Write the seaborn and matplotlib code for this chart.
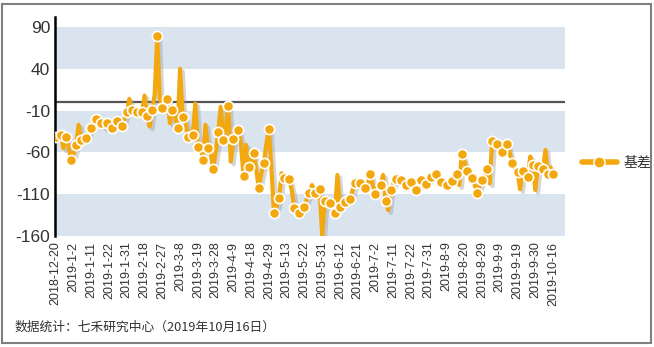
import numpy as np
import pandas as pd
import seaborn as sns
import matplotlib
matplotlib.use("Agg")
import matplotlib.pyplot as plt
import matplotlib.patheffects as pe
from matplotlib.lines import Line2D
from matplotlib.patches import Rectangle
from matplotlib.transforms import ScaledTranslation

# ---------------- data ----------------
tick_labels = ["2018-12-20", "2019-1-2", "2019-1-11", "2019-1-22", "2019-1-31",
               "2019-2-18", "2019-2-27", "2019-3-8", "2019-3-19", "2019-3-28",
               "2019-4-9", "2019-4-18", "2019-4-29", "2019-5-13", "2019-5-22",
               "2019-5-31", "2019-6-12", "2019-6-21", "2019-7-2", "2019-7-11",
               "2019-7-22", "2019-7-31", "2019-8-9", "2019-8-20", "2019-8-29",
               "2019-9-9", "2019-9-19", "2019-9-30", "2019-10-16"]
tick_step = 7

basis = [-41, -43, -39, -55, -41, -52, -69, -62, -51, -27,
         -45, -40, -43, -35, -31, -24, -19.5, -22, -25, -30,
         -25, -28, -31, -26, -23, -27, -28.6, -20, -12, 4,
         -9.5, -10, -12, -13, -11.5, 8, -17, -29, -8.7, 10,
         79, 5, -6.7, -2, 4, -25, -8.7, -15, -30.6, 40,
         -17.5, -20, -41, -35, -39, -1.5, -53, -50, -69, -27,
         -54.5, -60, -80, -60, -35.8, -5.5, -45, -30, -4.7, -71,
         -44.5, -40, -32.6, -50, -88, -51, -77, -70, -61, -80,
         -102, -85, -73, -50, -32, -80, -133, -125, -115, -85,
         -91, -95, -92, -105, -127, -130, -133, -128, -125, -115,
         -108, -99, -109, -110, -104, -159, -118, -115, -121, -128,
         -133, -87, -125, -122, -119, -117, -116, -105, -97, -100,
         -97, -99, -102, -98, -86, -100, -110, -100, -99, -87,
         -118, -129, -105, -98, -92, -95, -93, -96, -99, -100,
         -95, -98, -105, -100, -93, -95, -98, -92, -89, -87,
         -86, -90, -95, -100, -99, -96, -94, -90, -86, -99,
         -62, -70, -82, -88, -91, -98, -108, -100, -93, -88,
         -80, -97, -46.5, -48, -50, -55, -59, -52, -50, -62,
         -73, -80, -84, -104, -82, -88, -90, -65, -75, -105,
         -76, -78, -80, -57, -86, -78, -86]

series_name = "基差"
yticks = [90, 40, -10, -60, -110, -160]
bands = [(40, 90), (-60, -10), (-160, -110)]
footer = "数据统计：七禾研究中心（2019年10月16日）"

df = pd.DataFrame({"idx": np.arange(len(basis)), "basis": basis})
df_mark = df.iloc[::2]

# ---------------- style ----------------
sns.set_theme(style="white")
plt.rcParams["font.family"] = ["Liberation Sans", "Noto Sans CJK SC", "DejaVu Sans"]

ORANGE = "#F3A810"
BAND = "#DAE4EF"
TXT = "#333333"

fig = plt.figure(figsize=(6.54, 3.47), dpi=100)
ax = fig.add_axes([55 / 654, 1 - 236 / 347, (565 - 55) / 654, (236 - 17) / 347])

x_max = len(basis) - 1
xr = x_max + 4.7
for lo, hi in bands:
    ax.axhspan(lo, hi, color=BAND, lw=0, zorder=0)
ax.axhline(0, color="#555555", lw=1.6, zorder=1)

sns.lineplot(data=df, x="idx", y="basis", ax=ax, color=ORANGE, lw=3.0,
             zorder=3, legend=False,
             path_effects=[pe.SimpleLineShadow(offset=(2, -2), shadow_color="#9a9a9a", alpha=0.4),
                           pe.Normal()])
sns.scatterplot(data=df_mark, x="idx", y="basis", ax=ax, color=ORANGE, s=54,
                edgecolor="white", linewidth=1.2, zorder=4, legend=False)

ax.set_xlim(-0.3, xr)
ax.set_ylim(-160, 102)
ax.set_yticks(yticks)
ax.set_yticklabels([str(v) for v in yticks], fontsize=12.5, color=TXT)
tick_pos = list(range(0, len(tick_labels) * tick_step, tick_step))
ax.set_xticks(tick_pos)
ax.set_xticklabels(tick_labels, rotation=90, fontsize=9, color=TXT)
for lab in ax.get_xticklabels():
    lab.set_transform(lab.get_transform() + ScaledTranslation(-3 / 100, 0, fig.dpi_scale_trans))
ax.tick_params(axis="both", length=0)
ax.tick_params(axis="y", pad=3.5)
ax.tick_params(axis="x", pad=4)
ax.set_xlabel("")
ax.set_ylabel("")
for s in ["top", "right", "bottom"]:
    ax.spines[s].set_visible(False)
ax.spines["left"].set_color("black")
ax.spines["left"].set_linewidth(1.8)
ax.grid(False)

handle = Line2D([], [], color=ORANGE, lw=4, marker="o", markersize=8,
                markerfacecolor=ORANGE, markeredgecolor="white", markeredgewidth=1.0)
fig.legend([handle], [series_name], loc="center left",
           bbox_to_anchor=(582 / 654, 1 - 163 / 347), frameon=False,
           handlelength=2.5, handletextpad=0.5, borderpad=0, borderaxespad=0,
           prop={"family": ["Noto Sans CJK SC", "DejaVu Sans"], "size": 10},
           labelcolor=TXT)

fig.text(15 / 654, 1 - 327 / 347, footer, fontsize=9.2, color=TXT,
         family=["Noto Sans CJK SC", "DejaVu Sans"], va="center", ha="left")

fig.patches.append(Rectangle((2 / 654, 4 / 347), 649 / 654, 339 / 347,
                             transform=fig.transFigure, fill=False,
                             edgecolor="#7f7f7f", lw=1.5))

fig.savefig("out.png", dpi=100)
